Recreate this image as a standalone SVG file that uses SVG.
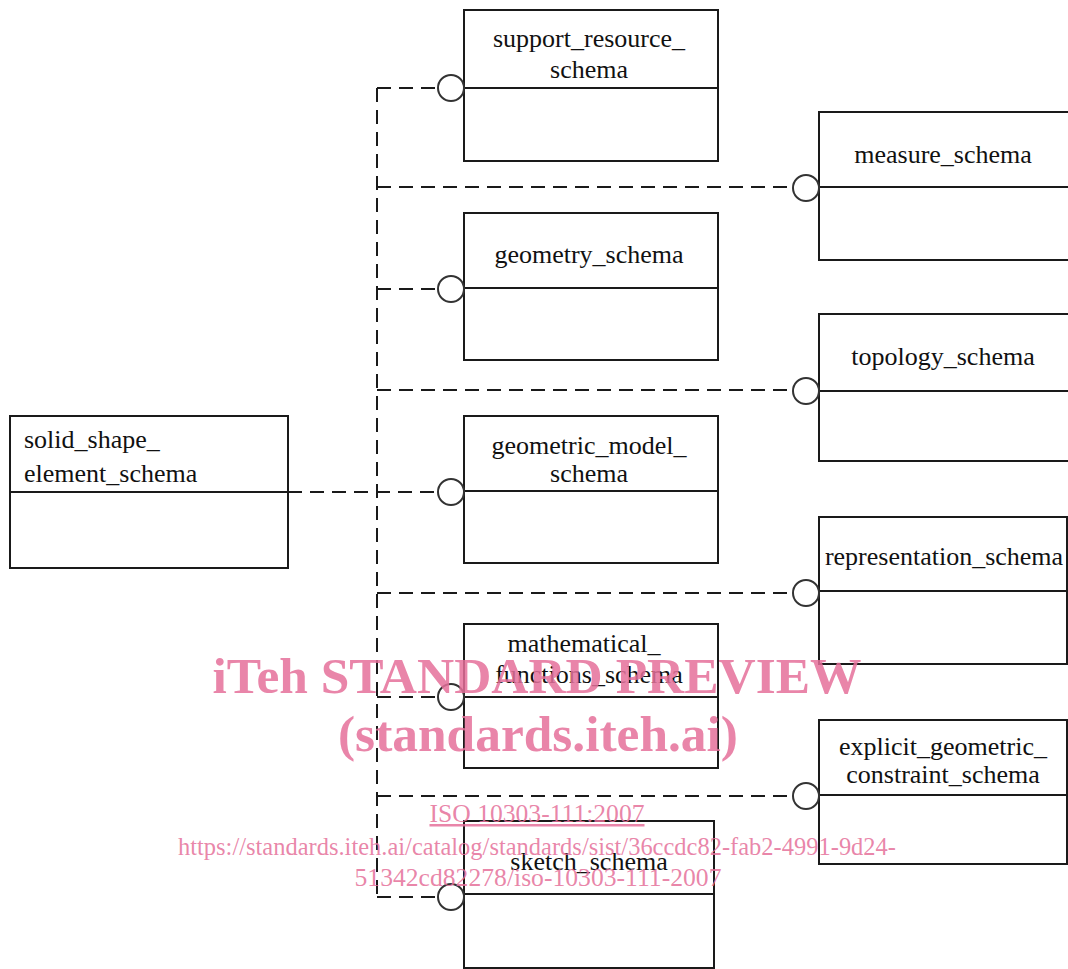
<svg xmlns="http://www.w3.org/2000/svg" width="1068" height="969" viewBox="0 0 1068 969">
<style>
.box{fill:#fff;stroke:#1a1a1a;stroke-width:2}
.div{stroke:#1a1a1a;stroke-width:2}
.lbl{font-family:"Liberation Serif","Times New Roman",serif;font-size:26px;fill:#111;text-anchor:middle}
.lft{text-anchor:start}
.dash{fill:none;stroke:#1a1a1a;stroke-width:2;stroke-dasharray:14 8}
.port{fill:#fff;stroke:#333;stroke-width:2}
.wm{font-family:"Liberation Serif","Times New Roman",serif;fill:#e5709a;fill-opacity:0.85;text-anchor:middle}
</style>
<rect width="1068" height="969" fill="#fff"/>
<g id="connectors">
<path class="dash" d="M377 88 V897"/>
<path class="dash" d="M288 492 H439"/>
<path class="dash" d="M377 88 H439"/>
<path class="dash" d="M377 289 H439"/>
<path class="dash" d="M377 697 H439"/>
<path class="dash" d="M377 897 H439"/>
<path class="dash" d="M377 187 H794"/>
<path class="dash" d="M377 390 H794"/>
<path class="dash" d="M377 593 H794"/>
<path class="dash" d="M377 796 H794"/>
</g>
<g id="solid_shape_element_schema">
<rect class="box" x="10" y="416" width="278" height="152"/>
<line class="div" x1="10" y1="492" x2="288" y2="492"/>
<text class="lbl lft" x="24" y="448">solid_shape_</text>
<text class="lbl lft" x="24" y="482">element_schema</text>
</g>
<g id="support_resource_schema">
<rect class="box" x="464" y="10" width="254" height="151"/>
<line class="div" x1="464" y1="88" x2="718" y2="88"/>
<text class="lbl" x="589" y="47">support_resource_</text>
<text class="lbl" x="589" y="78">schema</text>
<circle class="port" cx="451" cy="88" r="13"/>
</g>
<g id="geometry_schema">
<rect class="box" x="464" y="213" width="254" height="147"/>
<line class="div" x1="464" y1="288" x2="718" y2="288"/>
<text class="lbl" x="589" y="263">geometry_schema</text>
<circle class="port" cx="451" cy="289" r="13"/>
</g>
<g id="geometric_model_schema">
<rect class="box" x="464" y="416" width="254" height="147"/>
<line class="div" x1="464" y1="491" x2="718" y2="491"/>
<text class="lbl" x="589" y="454">geometric_model_</text>
<text class="lbl" x="589" y="482">schema</text>
<circle class="port" cx="451" cy="492" r="13"/>
</g>
<g id="mathematical_functions_schema">
<rect class="box" x="464" y="624" width="254" height="144"/>
<line class="div" x1="464" y1="697" x2="718" y2="697"/>
<text class="lbl" x="584" y="652">mathematical_</text>
<text class="lbl" x="589" y="683">functions_schema</text>
<circle class="port" cx="451" cy="697" r="13"/>
</g>
<g id="sketch_schema">
<rect class="box" x="464" y="821" width="250" height="147"/>
<line class="div" x1="464" y1="894" x2="714" y2="894"/>
<text class="lbl" x="589" y="870">sketch_schema</text>
<circle class="port" cx="451" cy="897" r="13"/>
</g>
<g id="measure_schema">
<rect class="box" x="819" y="112" width="250" height="148"/>
<line class="div" x1="819" y1="187" x2="1068" y2="187"/>
<text class="lbl" x="943" y="163">measure_schema</text>
<circle class="port" cx="806" cy="188" r="13"/>
</g>
<g id="topology_schema">
<rect class="box" x="819" y="314" width="250" height="147"/>
<line class="div" x1="819" y1="391" x2="1068" y2="391"/>
<text class="lbl" x="943" y="365">topology_schema</text>
<circle class="port" cx="806" cy="391" r="13"/>
</g>
<g id="representation_schema">
<rect class="box" x="819" y="517" width="248" height="147"/>
<line class="div" x1="819" y1="591" x2="1067" y2="591"/>
<text class="lbl" x="944" y="565">representation_schema</text>
<circle class="port" cx="806" cy="593" r="13"/>
</g>
<g id="explicit_geometric_constraint_schema">
<rect class="box" x="819" y="720" width="248" height="144"/>
<line class="div" x1="819" y1="795" x2="1067" y2="795"/>
<text class="lbl" x="943" y="755">explicit_geometric_</text>
<text class="lbl" x="943" y="783">constraint_schema</text>
<circle class="port" cx="806" cy="796" r="13"/>
</g>
<g id="watermark">
<text class="wm" x="537" y="693" font-size="51" font-weight="bold" textLength="649" lengthAdjust="spacingAndGlyphs">iTeh STANDARD PREVIEW</text>
<text class="wm" x="538" y="751" font-size="51" font-weight="bold" textLength="400" lengthAdjust="spacingAndGlyphs">(standards.iteh.ai)</text>
<text class="wm" x="537" y="822" font-size="25" text-decoration="underline" textLength="215" lengthAdjust="spacingAndGlyphs">ISO 10303-111:2007</text>
<text class="wm" x="537" y="855" font-size="25" textLength="718" lengthAdjust="spacingAndGlyphs">https://standards.iteh.ai/catalog/standards/sist/36ccdc82-fab2-4991-9d24-</text>
<text class="wm" x="538" y="886" font-size="25" textLength="367" lengthAdjust="spacingAndGlyphs">51342cd82278/iso-10303-111-2007</text>
</g>
</svg>
